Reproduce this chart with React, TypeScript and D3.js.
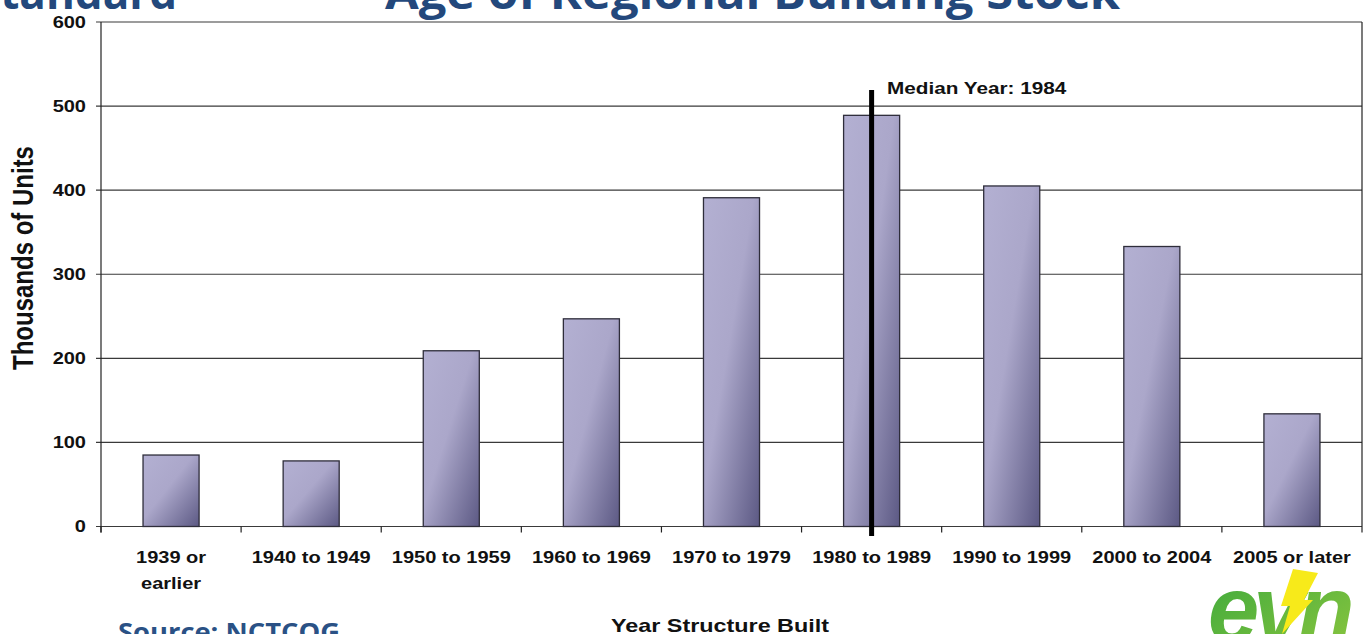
import React from "react";
import * as d3 from "d3";

const categories = ["1939 or earlier", "1940 to 1949", "1950 to 1959", "1960 to 1969", "1970 to 1979", "1980 to 1989", "1990 to 1999", "2000 to 2004", "2005 or later"];
const categoryLines = [["1939 or", "earlier"], ["1940 to 1949"], ["1950 to 1959"], ["1960 to 1969"], ["1970 to 1979"], ["1980 to 1989"], ["1990 to 1999"], ["2000 to 2004"], ["2005 or later"]];
const values = [85, 78, 209, 247, 391, 489, 405, 333, 134];
const yTicks = [0, 100, 200, 300, 400, 500, 600];
const medianCategory = "1980 to 1989";
const medianLabel = "Median Year: 1984";
const title = "Age of Regional Building Stock";
const leftTitle = "Standard";
const xTitle = "Year Structure Built";
const yTitle = "Thousands of Units";
const source = "Source:  NCTCOG";

const W = 1367, H = 634;
const left = 101, right = 1362, top = 22, bottom = 526.5;
const font = "'Liberation Sans', Arial, Helvetica, sans-serif";
const SX = 1.25;

function SText({ x, y, children, size, anchor = "start", sx = SX }: any) {
  return (
    <text transform={`translate(${x},${y}) scale(${sx},1)`} textAnchor={anchor}
      fontFamily={font} fontWeight={700} fontSize={size} fill="#111">{children}</text>
  );
}

export default function App() {
  const x = d3.scaleBand<string>().domain(categories).range([left, right]).paddingInner(0.6).paddingOuter(0.3);
  const xb = d3.scaleBand<string>().domain(categories).range([left, right]);
  const y = d3.scaleLinear().domain([0, 600]).range([bottom, top]);
  const mx = (xb(medianCategory) ?? 0) + xb.bandwidth() / 2;

  return (
    <svg width={W} height={H} style={{ position: "absolute", left: 0, top: 0, background: "#fff" }}>
      <defs>
        <linearGradient id="barGrad" x1="0" y1="0" x2="1" y2="1">
          <stop offset="0%" stopColor="#b3b0d2" />
          <stop offset="45%" stopColor="#aba7ca" />
          <stop offset="100%" stopColor="#5c5984" />
        </linearGradient>
        <linearGradient id="evnGrad" x1="0" y1="0" x2="1" y2="1">
          <stop offset="0%" stopColor="#3aa83c" />
          <stop offset="100%" stopColor="#8cc63f" />
        </linearGradient>
      </defs>
      {/* Titles (clipped by top of the slide) */}
      <text x={-24} y={9} fontFamily="'Open Sans', sans-serif" fontWeight={700} fontSize={44} fill="#23487c">{leftTitle}</text>
      <text x={385} y={9} textLength={735} lengthAdjust="spacingAndGlyphs" fontFamily="'Open Sans', sans-serif" fontWeight={700} fontSize={44} fill="#23487c">{title}</text>

      {/* gridlines */}
      {yTicks.map(t => (
        <g key={t}>
          <line x1={left - 5} x2={right} y1={y(t)} y2={y(t)} stroke="#3a3a3a" strokeWidth={1.2} />
          <SText x={86} y={y(t) + 5.5} size={16} anchor="end">{t}</SText>
        </g>
      ))}
      <line x1={left} x2={left} y1={top} y2={bottom + 6} stroke="#222" strokeWidth={1.2} />
      <line x1={right} x2={right} y1={top} y2={bottom + 6} stroke="#222" strokeWidth={1.2} />
      {categories.map((c, i) => (
        <line key={"tk" + i} x1={xb(c)!} x2={xb(c)!} y1={bottom} y2={bottom + 6} stroke="#222" strokeWidth={1.2} />
      ))}

      {/* bars */}
      {categories.map((c, i) => (
        <rect key={c} x={x(c)!} y={y(values[i])} width={x.bandwidth()} height={bottom - y(values[i])}
          fill="url(#barGrad)" stroke="#2e2d3a" strokeWidth={1.3} />
      ))}

      {/* median line */}
      <line x1={mx} x2={mx} y1={90} y2={536} stroke="#000" strokeWidth={5} />
      <SText x={887} y={94} size={17} sx={1.22}>{medianLabel}</SText>

      {/* x labels */}
      {categories.map((c, i) => (
        <g key={"lb" + i}>
          {categoryLines[i].map((l, j) => (
            <SText key={j} x={xb(c)! + xb.bandwidth() / 2} y={563 + j * 26} size={16} anchor="middle">{l}</SText>
          ))}
        </g>
      ))}

      <SText x={720} y={632} size={19} anchor="middle" sx={1.23}>{xTitle}</SText>
      <text transform="translate(33,258) rotate(-90) scale(1,1.25)" textAnchor="middle" fontFamily={font} fontWeight={700} fontSize={24} fill="#111">{yTitle}</text>

      <text x={118} y={641} textLength={222} lengthAdjust="spacingAndGlyphs" fontFamily="'Open Sans', sans-serif" fontWeight={700} fontSize={25} fill="#2a5185">{source}</text>

      {/* evn logo */}
      <text x={1208} y={641} fontFamily="'Liberation Sans', sans-serif" fontWeight={700} fontStyle="italic" fontSize={92} fill="url(#evnGrad)" letterSpacing={-6}>evn</text>
      <polygon points="1293,569 1318,573 1304,600 1313,600 1282,634 1290,606 1281,606" fill="#f7ea1a" />
    </svg>
  );
}
